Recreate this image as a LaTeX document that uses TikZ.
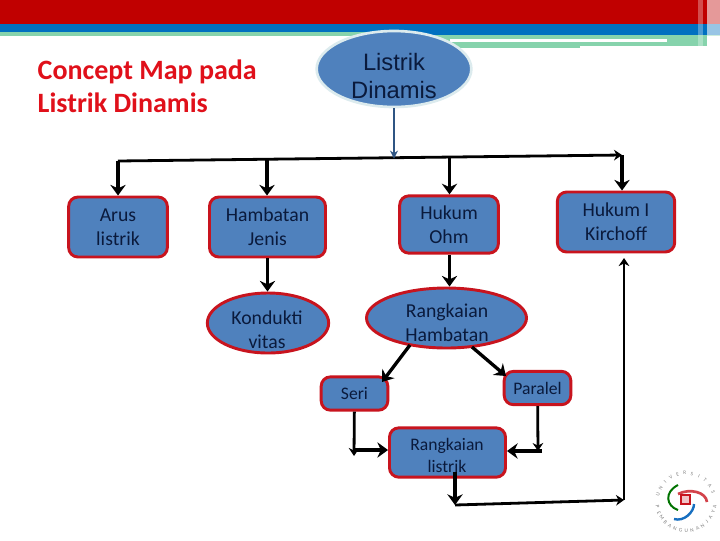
\documentclass[tikz,border=0pt]{standalone}
\usepackage{fontspec}
\setmainfont{Carlito}
\newfontfamily\arialfont{Liberation Sans}
\definecolor{SlideRed}{HTML}{C00000}
\definecolor{SlideBlue}{HTML}{0070C0}
\definecolor{SlideGreen}{HTML}{86D3AC}
\definecolor{BoxBlue}{HTML}{4F81BD}
\definecolor{BoxRed}{HTML}{C8141E}
\definecolor{TextNavy}{HTML}{0A1A3C}
\definecolor{TitleRed}{HTML}{E0101A}
\definecolor{RimPale}{HTML}{DCEBEE}
\definecolor{StemBlue}{HTML}{2F5583}
\usetikzlibrary{arrows.meta, positioning, shapes.geometric}
\tikzset{
   boxnode/.style={draw=BoxRed, line width=2.2pt, fill=BoxBlue, rounded corners=7pt, align=center,
      text=TextNavy, font=\fontsize{14.8}{18}\selectfont, inner sep=0pt},
   ovalnode/.style={ellipse, draw=BoxRed, line width=2.2pt, fill=BoxBlue, inner sep=0pt},
   ovaltext/.style={align=center, text=TextNavy, font=\fontsize{14.8}{18}\selectfont, inner sep=0pt},
   smallbox/.style={boxnode, font=\fontsize{13.2}{16.5}\selectfont},
   conn/.style={-{Stealth[length=8pt,width=11.5pt]}, line width=2.5pt, black},
   link/.style={-{Stealth[length=6pt,width=8pt]}, line width=2.1pt, black},
   logochar/.style={font=\fontsize{4}{4}\selectfont, text=gray, inner sep=0pt}
}
\begin{document}
\begin{tikzpicture}[x=0.75pt, y=-0.75pt]
   \useasboundingbox (0,0) rectangle (720,540);
   % Header bands
   \fill[SlideRed] (0,0) rectangle (720,24);
   \fill[SlideGreen] (0,32) rectangle (720,36);
   \fill[SlideGreen] (394,36) rectangle (580,48);
   \fill[SlideGreen] (580,36) rectangle (707,46);
   \fill[white] (450,39) rectangle (667,42);
   \fill[SlideBlue] (0,24) rectangle (720,32);
   \fill[SlideBlue] (394,32) rectangle (720,35);
   \fill[white, opacity=0.6] (707,0) rectangle (720,48);
   \fill[white, opacity=0.3] (698,0) rectangle (703,48);
   % Title
   \node[font=\fontsize{21}{24.7}\selectfont\bfseries, text=TitleRed, align=left, anchor=north west]
      (title) at (33,55) {Concept Map pada\\Listrik Dinamis};
   % Nodes
   \node[ellipse, draw=RimPale, line width=2pt, fill=BoxBlue, minimum width=116pt, minimum height=57pt, inner sep=0pt]
      (root) at (394,69) {};
   \node[align=center, inner sep=0pt, font=\arialfont\fontsize{17.8}{21}\selectfont, text=TextNavy]
      (rootlabel) at (394,76) {Listrik\\Dinamis};
   \node[boxnode, minimum width=74pt, minimum height=45pt] (arus) at (118,227) {Arus\\listrik};
   \node[boxnode, minimum width=87pt, minimum height=45pt] (jenis) at (267.5,227) {Hambatan\\Jenis};
   \node[boxnode, minimum width=74pt, minimum height=43pt] (ohm) at (449,224.5) {Hukum\\Ohm};
   \node[boxnode, minimum width=88pt, minimum height=45pt] (kirchoff) at (616,222) {Hukum I\\Kirchoff};
   \node[ovalnode, minimum width=91pt, minimum height=45pt] (konduktivitas) at (268,323) {};
   \node[ovaltext] (konduktivitaslabel) at (267,329.5) {Kondukti\\vitas};
   \node[ovalnode, minimum width=120pt, minimum height=45pt] (hambatan) at (446.5,318) {};
   \node[ovaltext] (hambatanlabel) at (447,323) {Rangkaian\\Hambatan};
   \node[smallbox, minimum width=50pt, minimum height=25pt] (seri) at (354.5,393.5) {Seri};
   \node[smallbox, minimum width=50pt, minimum height=25pt] (paralel) at (537.5,388) {Paralel};
   \node[smallbox, minimum width=87pt, minimum height=37pt] (rlistrik) at (447.5,452.5) {};
   \node[smallbox, draw=none, fill=none] (rlistriklabel) at (447,455) {Rangkaian\\listrik};
   % Branch line
   \coordinate (busL) at (118,161);
   \coordinate (busM) at (394,158.6);
   \coordinate (busJ) at (267,160);
   \coordinate (busO) at (449.5,158);
   \coordinate (busR) at (622,155);
   \draw[link] (busL) -- (busR);
   \draw[-{Stealth[length=6pt,width=6pt]}, line width=1.6pt, StemBlue] (root) -- (busM);
   \draw[conn] (busL) -- (arus);
   \draw[conn] (busJ) -- (jenis.north -| busJ);
   \draw[conn] (busO) -- (ohm.north -| busO);
   \draw[conn] (busR) -- (kirchoff.north -| busR);
   % Lower arrows
   \draw[conn] (jenis.south) -- (konduktivitas.north -| jenis.south);
   \draw[conn] (ohm.south -| busO) -- (hambatan.north -| busO);
   \coordinate (hamL) at (410,345);
   \coordinate (hamR) at (472,347);
   \coordinate (seriT) at (382,382);
   \coordinate (paralelT) at (506,376);
   \draw[conn] (hamL) -- (seriT);
   \draw[conn] (hamR) -- (paralelT);
   % Into the bottom box
   \coordinate (seriE) at (354,456);
   \coordinate (seriJ) at (354,450);
   \coordinate (paralelE) at (538,451);
   \coordinate (paralelJ) at (542,451);
   \draw[link] (seri) -- (seriE);
   \draw[conn] (seriJ) -- (rlistrik.west |- seriJ);
   \draw[link] (paralel) -- (paralelE);
   \draw[conn] (paralelJ) -- (rlistrik.east |- paralelJ);
   % Return path
   \coordinate (retS) at (455,472);
   \coordinate (retL) at (455,505);
   \coordinate (retR) at (624,500);
   \coordinate (retT) at (624,258);
   \draw[conn] (retS) -- (retL);
   \draw[link] (retL) -- (retR);
   \draw[link] (retR) -- (retT);
   % Logo
   \begin{scope}[shift={(686,502)}]
      \draw[line width=1.5pt, green!45!black] (-8,-17) .. controls (-22,-10) and (-20,4) .. (-8,8);
      \draw[line width=1.8pt, cyan!50!blue] (-12,17) .. controls (-2,20) and (8,10) .. (8,2);
      \draw[line width=2pt, BoxRed!80] (-8,-8) .. controls (4,-14) and (20,-10) .. (21,0);
      \draw[BoxRed, line width=1pt, fill=BoxRed!25] (-5,-7) rectangle (4,2);
      \foreach \ch [count=\i, evaluate=\i as \ang using 165-14.5*(\i-1)] in {U,N,I,V,E,R,S,I,T,A,S}
         \node[logochar, rotate=\ang-90] at ({29*cos(\ang)},{-29*sin(\ang)}) {\ch};
      \foreach \ch [count=\i, evaluate=\i as \ang using 190+11.5*(\i-1)] in {P,E,M,B,A,N,G,U,N,A,N,J,A,Y,A}
         \node[logochar, rotate=\ang+90] at ({29*cos(\ang)},{-29*sin(\ang)}) {\ch};
   \end{scope}
\end{tikzpicture}
\end{document}
